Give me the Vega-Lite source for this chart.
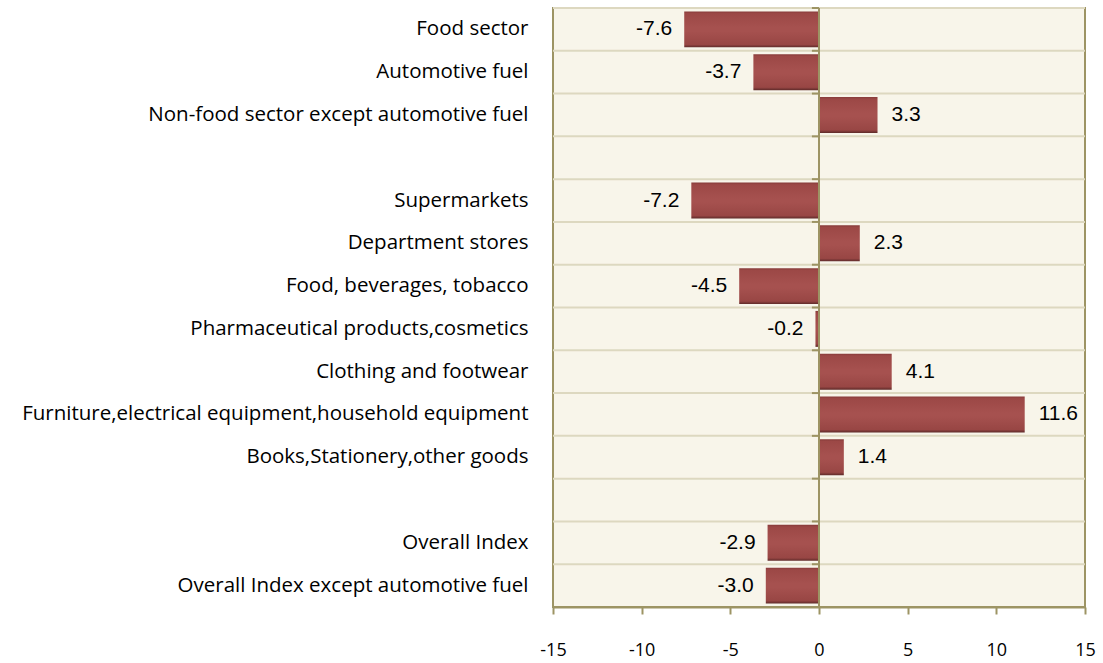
{
  "$schema": "https://vega.github.io/schema/vega-lite/v6.json",
  "autosize": {"type": "none"},
  "padding": {"left": 553, "top": 8, "right": 18, "bottom": 56},
  "width": 532,
  "height": 599,
  "background": "white",
  "config": {
    "view": {"fill": "#F8F5EA", "stroke": "#9D9464", "strokeWidth": 2},
    "axis": {"labelFont": "Open Sans", "labelColor": "#000000"}
  },
  "datasets": {
    "rows": [
      {"category": "Food sector", "value": -7.6},
      {"category": "Automotive fuel", "value": -3.7},
      {"category": "Non-food sector except automotive fuel", "value": 3.3},
      {"category": "blank1", "value": null},
      {"category": "Supermarkets", "value": -7.2},
      {"category": "Department stores", "value": 2.3},
      {"category": "Food, beverages, tobacco", "value": -4.5},
      {"category": "Pharmaceutical products,cosmetics", "value": -0.2},
      {"category": "Clothing and footwear", "value": 4.1},
      {"category": "Furniture,electrical equipment,household equipment", "value": 11.6},
      {"category": "Books,Stationery,other goods", "value": 1.4},
      {"category": "blank2", "value": null},
      {"category": "Overall Index", "value": -2.9},
      {"category": "Overall Index except automotive fuel", "value": -3.0}
    ],
    "zero": [{"z": 0}]
  },
  "layer": [
    {
      "data": {"name": "rows"},
      "mark": {"type": "rule", "color": "#DDD8C0", "strokeWidth": 2, "yOffset": -3.42},
      "encoding": {
        "y": {
          "field": "category",
          "type": "nominal",
          "sort": null,
          "bandPosition": 0,
          "scale": {
            "domain": ["Food sector", "Automotive fuel", "Non-food sector except automotive fuel", "blank1", "Supermarkets", "Department stores", "Food, beverages, tobacco", "Pharmaceutical products,cosmetics", "Clothing and footwear", "Furniture,electrical equipment,household equipment", "Books,Stationery,other goods", "blank2", "Overall Index", "Overall Index except automotive fuel"],
            "paddingInner": 0.16,
            "paddingOuter": 0.08
          },
          "axis": {
            "title": null,
            "domain": false,
            "ticks": false,
            "labelFontSize": 20.5,
            "labelPadding": 25,
            "labelLimit": 700,
            "labelExpr": "(datum.label == 'blank1' || datum.label == 'blank2') ? '' : datum.label",
            "grid": false
          }
        }
      }
    },
    {
      "data": {"name": "rows"},
      "mark": {
        "type": "bar",
        "color": {
          "gradient": "linear",
          "x1": 0, "y1": 0, "x2": 0, "y2": 1,
          "stops": [
            {"offset": 0, "color": "#873B3A"},
            {"offset": 0.06, "color": "#9C4846"},
            {"offset": 0.45, "color": "#A6514F"},
            {"offset": 0.55, "color": "#A6514F"},
            {"offset": 0.92, "color": "#984644"},
            {"offset": 1, "color": "#5E2A29"}
          ]
        }
      },
      "encoding": {
        "y": {"field": "category", "type": "nominal", "sort": null},
        "x": {
          "field": "value",
          "type": "quantitative",
          "scale": {"domain": [-15, 15], "nice": false, "zero": false},
          "axis": {
            "title": null,
            "orient": "bottom",
            "values": [-15, -10, -5, 0, 5, 10, 15],
            "labelExpr": "replace(datum.label, '\u2212', '-')",
            "grid": false,
            "domainColor": "#9D9464",
            "domainWidth": 2,
            "tickColor": "#9D9464",
            "tickWidth": 2,
            "tickSize": 7,
            "labelFontSize": 18,
            "labelPadding": 27,
            "labelFlush": false
          }
        }
      }
    },
    {
      "data": {"name": "rows"},
      "mark": {"type": "rule", "color": "#9D9464", "strokeWidth": 2, "yOffset": -3.42},
      "encoding": {
        "y": {"field": "category", "type": "nominal", "sort": null, "bandPosition": 0},
        "x": {"datum": -0.4, "type": "quantitative"},
        "x2": {"datum": 0}
      }
    },
    {
      "data": {"name": "zero"},
      "mark": {"type": "rule", "color": "#9D9464", "strokeWidth": 2},
      "encoding": {"x": {"field": "z", "type": "quantitative"}}
    },
    {
      "data": {"name": "rows"},
      "transform": [{"filter": "datum.value != null && datum.value < 0"}],
      "mark": {"type": "text", "align": "right", "baseline": "middle", "dx": -12, "font": "Liberation Sans", "fontSize": 21, "color": "#000000", "text": {"expr": "replace(format(datum.value, '.1f'), '\u2212', '-')"}},
      "encoding": {
        "y": {"field": "category", "type": "nominal", "sort": null},
        "x": {"field": "value", "type": "quantitative"}
      }
    },
    {
      "data": {"name": "rows"},
      "transform": [{"filter": "datum.value != null && datum.value >= 0"}],
      "mark": {"type": "text", "align": "left", "baseline": "middle", "dx": 14, "font": "Liberation Sans", "fontSize": 21, "color": "#000000", "text": {"expr": "format(datum.value, '.1f')"}},
      "encoding": {
        "y": {"field": "category", "type": "nominal", "sort": null},
        "x": {"field": "value", "type": "quantitative"}
      }
    }
  ]
}
